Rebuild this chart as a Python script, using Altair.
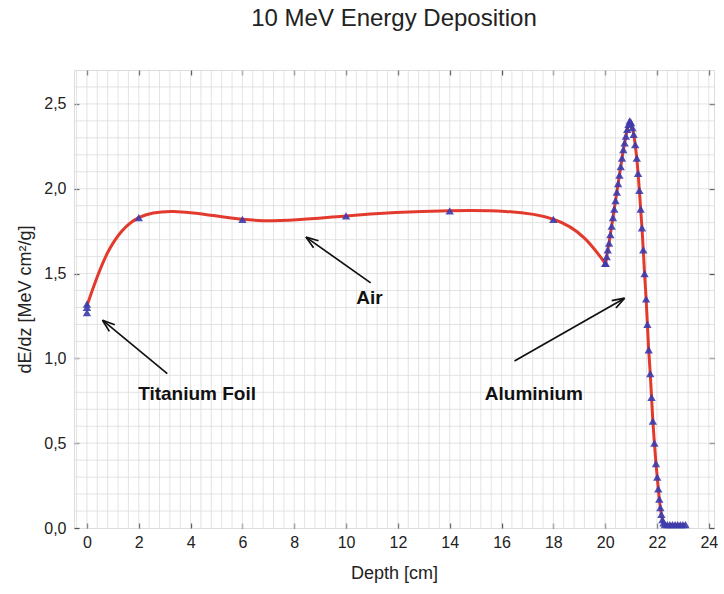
import math

import altair as alt
import numpy as np
import pandas as pd

# Measured stopping power along the beam path
air_x = [0, 0, 0, 2, 6, 10, 14, 18, 20]
air_y = [1.32, 1.30, 1.27, 1.83, 1.82, 1.84, 1.87, 1.82, 1.56]

# Smooth curve through the titanium foil + air region
curve_x = [0, 2, 6, 10, 14, 18, 20]
curve_y = [1.31, 1.83, 1.82, 1.84, 1.87, 1.82, 1.56]

# Aluminium absorber: Bragg peak and fall-off
al_x = [20.02, 20.06, 20.10, 20.15, 20.20, 20.25, 20.30, 20.35, 20.40, 20.45,
        20.50, 20.55, 20.60, 20.65, 20.70, 20.75, 20.80, 20.85, 20.90, 20.95,
        21.00, 21.05, 21.10, 21.16, 21.22, 21.27, 21.32, 21.37, 21.42, 21.47,
        21.52, 21.58, 21.63, 21.68, 21.74, 21.79, 21.84, 21.90, 21.96, 22.01,
        22.05, 22.09, 22.13, 22.17, 22.21, 22.25, 22.30, 22.40, 22.50, 22.60,
        22.70, 22.80, 22.90, 23.00, 23.10]
al_y = [1.56, 1.60, 1.64, 1.68, 1.73, 1.78, 1.83, 1.88, 1.93, 1.98,
        2.03, 2.08, 2.13, 2.18, 2.23, 2.27, 2.31, 2.35, 2.38, 2.40,
        2.39, 2.36, 2.32, 2.26, 2.18, 2.09, 1.99, 1.88, 1.77, 1.64,
        1.50, 1.35, 1.20, 1.05, 0.91, 0.77, 0.63, 0.50, 0.38, 0.30,
        0.23, 0.17, 0.12, 0.08, 0.05, 0.03, 0.02, 0.02, 0.02, 0.02,
        0.02, 0.02, 0.02, 0.02, 0.02]

# Annotations: label text/position and arrow tail -> head
label_text = ["Titanium Foil", "Air", "Aluminium"]
label_x = [4.25, 10.9, 17.25]
label_y = [0.79, 1.355, 0.79]
arrow_x = [3.1, 10.95, 16.5]
arrow_y = [0.91, 1.445, 0.985]
arrow_x2 = [0.6, 8.45, 20.75]
arrow_y2 = [1.225, 1.715, 1.355]

X_DOMAIN = [-0.5, 24.2]
Y_DOMAIN = [0, 2.7]
W, H = 640, 458
FONT = "Liberation Sans"
RED = "#e23b2e"
BLUE = "#3c3cae"
TEXT = "#222222"

xs = alt.Scale(domain=X_DOMAIN, nice=False, zero=False)
ys = alt.Scale(domain=Y_DOMAIN, nice=False, zero=False)

# arrow head orientation in screen space (clockwise from "up")
ppx = W / (X_DOMAIN[1] - X_DOMAIN[0])
ppy = H / (Y_DOMAIN[1] - Y_DOMAIN[0])
angles = []
for x1, y1, x2, y2 in zip(arrow_x, arrow_y, arrow_x2, arrow_y2):
    dx = (x2 - x1) * ppx
    dy = -(y2 - y1) * ppy
    angles.append(math.degrees(math.atan2(dx, -dy)) % 360)

points = pd.DataFrame({"x": air_x + al_x, "y": air_y + al_y})
curve = pd.DataFrame({"x": curve_x, "y": curve_y})
al = pd.DataFrame({"x": al_x, "y": al_y})
labels = pd.DataFrame({"t": label_text, "x": label_x, "y": label_y})
arrows = pd.DataFrame({"x": arrow_x, "y": arrow_y, "x2": arrow_x2,
                       "y2": arrow_y2, "a": angles})

grid_x = pd.DataFrame({"x": np.round(np.arange(-0.4, 24.2, 0.4), 2)})
grid_y = pd.DataFrame({"y": np.round(np.arange(0.1, 2.7, 0.1), 2)})

gx = alt.Chart(grid_x).mark_rule(color="#dcdcdc", strokeWidth=0.8).encode(
    x=alt.X("x:Q", scale=xs, axis=None))
gy = alt.Chart(grid_y).mark_rule(color="#dcdcdc", strokeWidth=0.8).encode(
    y=alt.Y("y:Q", scale=ys, axis=None))

air_line = alt.Chart(curve).mark_line(
    color=RED, strokeWidth=3, interpolate="natural").encode(
    x=alt.X("x:Q", scale=xs, axis=None),
    y=alt.Y("y:Q", scale=ys, axis=None))

al_line = alt.Chart(al).mark_line(color=RED, strokeWidth=3).encode(
    x=alt.X("x:Q", scale=xs, axis=None),
    y=alt.Y("y:Q", scale=ys, axis=None))

tick_style = dict(tickSize=5, offset=-5, domain=False, tickColor="#555555",
                  tickWidth=1.3, grid=False)

pts = alt.Chart(points).mark_point(
    shape="triangle-up", filled=True, size=70, color=BLUE, opacity=0.9
).encode(
    x=alt.X("x:Q", scale=xs, axis=alt.Axis(
        values=list(range(0, 25, 2)), title="Depth [cm]", orient="bottom",
        labelFont=FONT, labelFontSize=16, labelColor=TEXT,
        labelPadding=6, titleFont=FONT, titleFontSize=18,
        titleFontWeight="normal", titleColor=TEXT, titlePadding=14,
        **tick_style)),
    y=alt.Y("y:Q", scale=ys, axis=alt.Axis(
        values=[0, 0.5, 1.0, 1.5, 2.0, 2.5], title="dE/dz [MeV cm²/g]",
        orient="left",
        labelExpr="replace(format(datum.value, '.1f'), '.', ',')",
        labelFont=FONT, labelFontSize=16, labelColor=TEXT,
        labelPadding=8, titleFont=FONT, titleFontSize=18,
        titleFontWeight="normal", titleColor=TEXT, titlePadding=9,
        **tick_style)),
)

# inward ticks on the top and right edges of the frame
frame_ticks = alt.Chart(points).mark_point(opacity=0).encode(
    x=alt.X("x:Q", scale=xs, axis=alt.Axis(
        values=list(range(0, 25, 2)), orient="top", labels=False,
        title=None, **tick_style)),
    y=alt.Y("y:Q", scale=ys, axis=alt.Axis(
        values=[0, 0.5, 1.0, 1.5, 2.0, 2.5], orient="right", labels=False,
        title=None, **tick_style)),
)

shafts = alt.Chart(arrows).mark_rule(color="#111111", strokeWidth=1.7).encode(
    x=alt.X("x:Q", scale=xs, axis=None),
    y=alt.Y("y:Q", scale=ys, axis=None),
    x2="x2:Q", y2="y2:Q")

heads = alt.Chart(arrows).mark_point(
    shape="M0,0L-0.55,1.6M0,0L0.55,1.6", filled=False, size=240,
    color="#111111", strokeWidth=1.7, opacity=1
).encode(
    x=alt.X("x2:Q", scale=xs, axis=None),
    y=alt.Y("y2:Q", scale=ys, axis=None),
    angle=alt.Angle("a:Q", scale=None))

texts = alt.Chart(labels).mark_text(
    font=FONT, fontSize=19, fontWeight="bold", color="#111111"
).encode(
    x=alt.X("x:Q", scale=xs, axis=None),
    y=alt.Y("y:Q", scale=ys, axis=None),
    text="t:N")

chart = alt.layer(
    gx, gy, air_line, al_line, pts, frame_ticks, shafts, heads, texts
).resolve_axis(
    x="independent", y="independent"
).properties(
    width=W, height=H,
    title=alt.TitleParams("10 MeV Energy Deposition", font=FONT, fontSize=24,
                          fontWeight="normal", color=TEXT, offset=38,
                          anchor="middle"),
    autosize=alt.AutoSizeParams(type="none"),
    padding={"left": 74, "top": 70, "right": 10, "bottom": 66},
).configure_view(
    stroke="#6e6e6e", strokeWidth=1.5
).configure(background="white")

chart.save("out.html", embed_options={"renderer": "svg", "actions": False})
